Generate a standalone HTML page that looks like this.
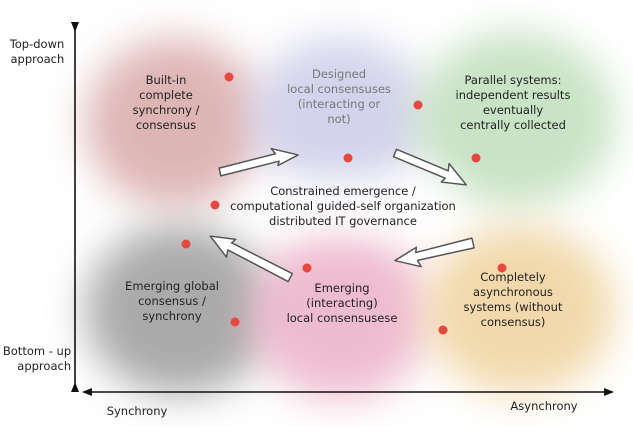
<!DOCTYPE html>
<html><head><meta charset="utf-8"><style>
body{margin:0;width:633px;height:427px;background:#fff;overflow:hidden;position:relative;font-family:"DejaVu Sans","Liberation Sans",sans-serif;}
.b{position:absolute;border-radius:50%;filter:blur(20px);}
.t{position:absolute;text-align:center;font-size:11.5px;line-height:15px;color:#222;white-space:nowrap;transform:translateX(-50%);}
</style></head><body>
<div class="b" style="left:85px;top:38px;width:180px;height:170px;background:#d9a9a9;opacity:.85"></div>
<div class="b" style="left:250px;top:38px;width:180px;height:155px;background:#cfcfea;opacity:.9"></div>
<div class="b" style="left:415px;top:32px;width:200px;height:175px;background:#c3e0bf;opacity:.9"></div>
<div class="b" style="left:85px;top:225px;width:190px;height:170px;background:#9c9c9c;opacity:.85"></div>
<div class="b" style="left:250px;top:230px;width:180px;height:170px;background:#edb5cb;opacity:.9"></div>
<div class="b" style="left:425px;top:225px;width:190px;height:170px;background:#f0d5a3;opacity:.9"></div>
<div class="b" style="left:240px;top:180px;width:220px;height:50px;background:#fff;opacity:.75"></div>

<svg width="633" height="427" style="position:absolute;left:0;top:0">
<g stroke="#111" stroke-width="1.6" fill="#111">
<line x1="75" y1="26" x2="75" y2="390"/>
<polygon points="71,22 79,22 75,32" stroke="none"/>
<polygon points="71,392 79,392 75,382" stroke="none"/>
<line x1="86" y1="392" x2="610" y2="392"/>
<polygon points="82,392 92,388 92,396" stroke="none"/>
<polygon points="614,392 604,388 604,396" stroke="none"/>
</g>
<g fill="#fff" stroke="#555" stroke-width="1.5" stroke-linejoin="round">
<polygon transform="translate(220,172) rotate(-12.3)" points="0,-4 58,-6 55,-12 80,0 58,6 60,2 0,4"/>
<polygon transform="translate(395,153) rotate(22.6)" points="0,-4 56,-4 54,-11 78,2 54,9 56,4 0,4"/>
<polygon transform="translate(290,278) rotate(207.7)" points="0,-4 68,-4 66,-11 90,0 66,9 68,4 0,5"/>
<polygon transform="translate(473,243) rotate(166.6)" points="0,-5 58,-4 56,-11 80,1 56,9 58,4 0,5"/>
</g>
<g fill="#e5483f">
<circle cx="229" cy="77" r="4.5"/><circle cx="418" cy="105" r="4.5"/>
<circle cx="348" cy="158" r="4.5"/><circle cx="476" cy="158" r="4.5"/>
<circle cx="215" cy="205" r="4.5"/><circle cx="186" cy="244" r="4.5"/>
<circle cx="307" cy="268" r="4.5"/><circle cx="502" cy="268" r="4.5"/>
<circle cx="235" cy="322" r="4.5"/><circle cx="443" cy="330" r="4.5"/>
</g>
</svg>

<div class="t" style="left:37px;top:37px;text-align:right;">Top-down<br>approach</div>
<div class="t" style="left:37px;top:344px;text-align:right;">Bottom - up<br>approach</div>
<div class="t" style="left:137px;top:404px;">Synchrony</div>
<div class="t" style="left:544px;top:399px;">Asynchrony</div>
<div class="t" style="left:166px;top:73px;">Built-in<br>complete<br>synchrony /<br>consensus</div>
<div class="t" style="left:339px;top:67px;color:#777;">Designed<br>local consensuses<br>(interacting or<br>not)</div>
<div class="t" style="left:513px;top:73px;">Parallel systems:<br>independent results<br>eventually<br>centrally collected</div>
<div class="t" style="left:343px;top:184px;">Constrained emergence /<br>computational guided-self organization<br>distributed IT governance</div>
<div class="t" style="left:172px;top:279px;">Emerging global<br>consensus /<br>synchrony</div>
<div class="t" style="left:342px;top:281px;">Emerging<br>(interacting)<br>local consensusese</div>
<div class="t" style="left:513px;top:270px;">Completely<br>asynchronous<br>systems (without<br>consensus)</div>
</body></html>
